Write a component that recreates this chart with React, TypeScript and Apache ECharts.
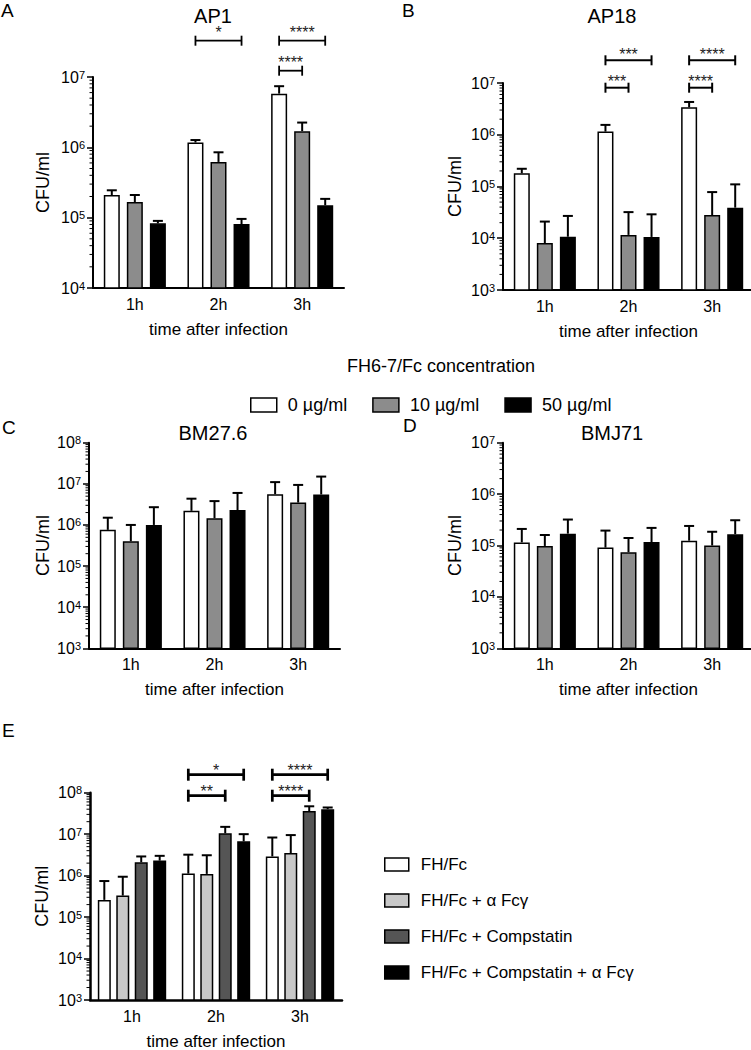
import React, { useEffect, useRef } from 'react';
import * as echarts from 'echarts';

const FONT = '"Liberation Sans", Arial, Helvetica, sans-serif';

const categories = ['1h', '2h', '3h'];
const concNames = ['0 µg/ml', '10 µg/ml', '50 µg/ml'];
const concColors = ['#ffffff', '#8c8c8c', '#000000'];
const eNames = ['FH/Fc', 'FH/Fc + α Fcγ', 'FH/Fc + Compstatin', 'FH/Fc + Compstatin + α Fcγ'];
const eColors = ['#ffffff', '#c8c8c8', '#555555', '#000000'];

// means / upper error (mean + SD), one row per group, columns = 1h, 2h, 3h
const ap1Mean = [[2.1e5, 1.17e6, 5.8e6], [1.67e5, 6.2e5, 1.7e6], [8.3e4, 8.1e4, 1.5e5]];
const ap1Err = [[2.45e5, 1.27e6, 7.4e6], [2.1e5, 8.5e5, 2.25e6], [9.0e4, 9.6e4, 1.85e5]];

const ap18Mean = [[1.8e5, 1.15e6, 3.4e6], [8.1e3, 1.16e4, 2.8e4], [1.07e4, 1.06e4, 3.9e4]];
const ap18Err = [[2.2e5, 1.55e6, 4.3e6], [2.1e4, 3.2e4, 7.8e4], [2.7e4, 2.9e4, 1.1e5]];

const bm27Mean = [[7.6e5, 2.2e6, 5.6e6], [4.0e5, 1.45e6, 3.5e6], [1.0e6, 2.3e6, 5.5e6]];
const bm27Err = [[1.5e6, 4.35e6, 1.1e7], [1.0e6, 3.8e6, 9.4e6], [2.7e6, 6.0e6, 1.5e7]];

const bmj71Mean = [[1.15e5, 9.1e4, 1.24e5], [9.8e4, 7.4e4, 1.0e5], [1.7e5, 1.17e5, 1.66e5]];
const bmj71Err = [[2.1e5, 1.95e5, 2.4e5], [1.6e5, 1.4e5, 1.85e5], [3.2e5, 2.2e5, 3.1e5]];

const eMean = [[2.6e5, 1.12e6, 2.9e6], [3.3e5, 1.1e6, 3.5e6], [2.1e6, 1.05e7, 3.6e7], [2.3e6, 6.7e6, 4.0e7]];
const eErr = [[7.4e5, 3.2e6, 8.3e6], [9.4e5, 3.1e6, 9.5e6], [2.9e6, 1.5e7, 4.7e7], [3.0e6, 1.0e7, 4.4e7]];

// significance brackets: category, from group, to group, level (1 = lower, 2 = upper), label
const ap1Brackets = [
  { cat: 1, from: 0, to: 2, level: 2, label: '*' },
  { cat: 2, from: 0, to: 2, level: 2, label: '****' },
  { cat: 2, from: 0, to: 1, level: 1, label: '****' },
];
const ap18Brackets = [
  { cat: 1, from: 0, to: 2, level: 2, label: '***' },
  { cat: 1, from: 0, to: 1, level: 1, label: '***' },
  { cat: 2, from: 0, to: 2, level: 2, label: '****' },
  { cat: 2, from: 0, to: 1, level: 1, label: '****' },
];
const eBrackets = [
  { cat: 1, from: 0, to: 3, level: 2, label: '*' },
  { cat: 1, from: 0, to: 2, level: 1, label: '**' },
  { cat: 2, from: 0, to: 3, level: 2, label: '****' },
  { cat: 2, from: 0, to: 2, level: 1, label: '****' },
];

const minorFactors = [2, 3, 4, 5, 6, 7, 8, 9];

const panels = [
  { left: 93, top: 77, width: 251, height: 211, min: 1e4, max: 1e7, names: concNames, colors: concColors,
    means: ap1Mean, errs: ap1Err, brackets: ap1Brackets, rise: [6.3, 36.3], starRise: 11.5,
    barWidth: 16, gap: 0.44, nameGap: 41, axisW: 2, bracketW: 1.8, tickHalf: 5 },
  { left: 503, top: 83, width: 251, height: 207, min: 1e3, max: 1e7, names: concNames, colors: concColors,
    means: ap18Mean, errs: ap18Err, brackets: ap18Brackets, rise: [-4.7, 22.7], starRise: 9,
    barWidth: 16, gap: 0.44, nameGap: 39, axisW: 2, bracketW: 2, tickHalf: 5 },
  { left: 89, top: 442.7, width: 251, height: 205.6, min: 1e3, max: 1e8, names: concNames, colors: concColors,
    means: bm27Mean, errs: bm27Err, brackets: [], rise: [0, 0], starRise: 0,
    barWidth: 16, gap: 0.44, nameGap: 37, axisW: 2, bracketW: 2, tickHalf: 5 },
  { left: 503, top: 442.7, width: 251, height: 205.6, min: 1e3, max: 1e7, names: concNames, colors: concColors,
    means: bmj71Mean, errs: bmj71Err, brackets: [], rise: [0, 0], starRise: 0,
    barWidth: 16, gap: 0.44, nameGap: 39, axisW: 2, bracketW: 2, tickHalf: 5 },
  { left: 90, top: 792.7, width: 252, height: 207.3, min: 1e3, max: 1e8, names: eNames, colors: eColors,
    means: eMean, errs: eErr, brackets: eBrackets, rise: [-3, 18], starRise: 7.5,
    barWidth: 13, gap: 0.42, nameGap: 39, axisW: 2.5, bracketW: 2.7, tickHalf: 6 },
];

function buildOption() {
  const grid: any[] = [];
  const xAxis: any[] = [];
  const yAxis: any[] = [];
  const series: any[] = [];

  panels.forEach((p, idx) => {
    grid.push({ left: p.left, top: p.top, width: p.width, height: p.height, containLabel: false, outerBoundsMode: 'none' });
    xAxis.push({
      type: 'category', gridIndex: idx, data: categories,
      axisLine: { lineStyle: { color: '#000', width: p.axisW } },
      axisTick: { alignWithLabel: true, length: 5, lineStyle: { color: '#000', width: 1.5 } },
      axisLabel: { color: '#000', fontSize: 16, fontFamily: FONT, margin: 8 },
      name: 'time after infection', nameLocation: 'middle', nameGap: 33,
      nameTextStyle: { color: '#000', fontSize: 17, fontFamily: FONT },
      splitLine: { show: false },
    });
    const decades = Math.round(Math.log10(p.max) - Math.log10(p.min));
    yAxis.push({
      type: 'log', gridIndex: idx, min: p.min, max: p.max, logBase: 10, splitNumber: decades,
      axisLine: { show: true, lineStyle: { color: '#000', width: p.axisW } },
      axisTick: { show: true, length: 6, lineStyle: { color: '#000', width: 1.5 } },
      splitLine: { show: false },
      minorTick: { show: false },
      axisLabel: {
        margin: 8, color: '#000',
        formatter: (v: number) => '{b|10}{s|' + Math.round(Math.log10(v)) + '}',
        rich: {
          b: { fontSize: 16, fontFamily: FONT, color: '#000', lineHeight: 16, padding: [4, 0, 0, 0], verticalAlign: 'bottom' },
          s: { fontSize: 11, fontFamily: FONT, color: '#000', lineHeight: 11, verticalAlign: 'top' },
        },
      },
      name: 'CFU/ml', nameLocation: 'middle', nameRotate: 90, nameGap: p.nameGap,
      nameTextStyle: { color: '#000', fontSize: 18, fontFamily: FONT },
    });

    const n = p.names.length;
    const step = p.barWidth * (1 + p.gap);

    p.names.forEach((name, b) => {
      series.push({
        type: 'bar', name, xAxisIndex: idx, yAxisIndex: idx, data: p.means[b],
        barWidth: p.barWidth, barGap: Math.round(p.gap * 100) + '%', silent: true, clip: true,
        itemStyle: { color: p.colors[b], borderColor: '#000', borderWidth: 1.5 },
        emphasis: { disabled: true },
      });
    });

    // error bars (upper whisker)
    const errRows: number[][] = [];
    p.means.forEach((arr, b) => arr.forEach((m, c) => errRows.push([c, b, m, p.errs[b][c]])));
    series.push({
      type: 'custom', xAxisIndex: idx, yAxisIndex: idx, silent: true, z: 5,
      encode: { x: 0, y: 3 }, data: errRows,
      renderItem: (params: any, api: any) => {
        const c = api.value(0);
        const b = api.value(1);
        const base = api.coord([c, api.value(2)]);
        const top = api.coord([c, api.value(3)]);
        const x = base[0] + (b - (n - 1) / 2) * step;
        return {
          type: 'group',
          children: [
            { type: 'line', shape: { x1: x, y1: base[1], x2: x, y2: top[1] }, style: { stroke: '#000', lineWidth: 2 } },
            { type: 'line', shape: { x1: x - 5, y1: top[1], x2: x + 5, y2: top[1] }, style: { stroke: '#000', lineWidth: 2 } },
          ],
        };
      },
    });

    // log-distributed minor ticks
    const minorRows: number[][] = [];
    const e0 = Math.round(Math.log10(p.min));
    for (let e = e0; e < e0 + decades; e++) minorFactors.forEach((f) => minorRows.push([0, f * Math.pow(10, e)]));
    series.push({
      type: 'custom', xAxisIndex: idx, yAxisIndex: idx, silent: true, z: 5,
      encode: { x: 0, y: 1 }, data: minorRows,
      renderItem: (params: any, api: any) => {
        const y = api.coord([0, api.value(1)])[1];
        const x = params.coordSys.x;
        return { type: 'line', shape: { x1: x - 3.5, y1: y, x2: x, y2: y }, style: { stroke: '#000', lineWidth: 1 } };
      },
    });

    // significance brackets
    if (p.brackets.length) {
      series.push({
        type: 'custom', xAxisIndex: idx, yAxisIndex: idx, silent: true, z: 6, clip: false,
        encode: { x: 0, y: 3 },
        data: p.brackets.map((br) => [br.cat, br.from, br.to, br.level]),
        renderItem: (params: any, api: any) => {
          const c = api.value(0);
          const center = api.coord([c, p.min])[0];
          const x1 = center + (api.value(1) - (n - 1) / 2) * step;
          const x2 = center + (api.value(2) - (n - 1) / 2) * step;
          const y = params.coordSys.y - p.rise[api.value(3) - 1];
          const st = { stroke: '#000', lineWidth: p.bracketW };
          const h = p.tickHalf;
          return {
            type: 'group',
            children: [
              { type: 'line', shape: { x1, y1: y, x2, y2: y }, style: st },
              { type: 'line', shape: { x1, y1: y - h, x2: x1, y2: y + h }, style: st },
              { type: 'line', shape: { x1: x2, y1: y - h, x2, y2: y + h }, style: st },
              {
                type: 'text', x: (x1 + x2) / 2, y: y - p.starRise + 3,
                style: { text: p.brackets[params.dataIndex].label, fontSize: 16, lineHeight: 10, fontFamily: FONT, fill: '#222', align: 'center', verticalAlign: 'middle' },
              },
            ],
          };
        },
      });
    }
  });

  const txt = (text: string, x: number, y: number, size: number, align = 'left') => ({
    type: 'text', x, y, silent: true,
    style: { text, fontSize: size, lineHeight: size, fontFamily: FONT, fill: '#000', align, verticalAlign: 'middle' },
  });

  return {
    animation: false,
    backgroundColor: '#fff',
    grid, xAxis, yAxis, series,
    legend: [
      {
        data: concNames, left: 245, top: 391, orient: 'horizontal', icon: 'rect',
        itemWidth: 26, itemHeight: 14, itemGap: 25, selectedMode: false,
        itemStyle: { borderColor: '#000', borderWidth: 1.5 },
        textStyle: { color: '#000', fontSize: 18, fontFamily: FONT, padding: [0, 0, 0, 6] },
      },
      {
        data: eNames, left: 379, top: 851, orient: 'vertical', icon: 'rect',
        itemWidth: 24, itemHeight: 13, itemGap: 19, selectedMode: false,
        itemStyle: { borderColor: '#000', borderWidth: 1.5 },
        textStyle: { color: '#000', fontSize: 17, fontFamily: FONT, padding: [0, 0, 0, 7] },
      },
    ],
    graphic: [
      txt('A', 1, 10, 19),
      txt('B', 402, 10, 19),
      txt('C', 2, 427, 19),
      txt('D', 403, 425, 19),
      txt('E', 2, 730, 19),
      txt('AP1', 213, 16, 20, 'center'),
      txt('AP18', 612, 16, 20, 'center'),
      txt('BM27.6', 213, 433, 20, 'center'),
      txt('BMJ71', 612, 433, 20, 'center'),
      txt('FH6-7/Fc concentration', 347, 366, 18),
    ],
  };
}

export default function App() {
  const ref = useRef<HTMLDivElement>(null);
  useEffect(() => {
    if (!ref.current) return;
    const chart = echarts.init(ref.current, null, { renderer: 'svg' });
    chart.setOption(buildOption() as any);
    return () => chart.dispose();
  }, []);
  return (
    <div
      ref={ref}
      style={{ position: 'absolute', left: 0, top: 0, width: 751, height: 1050, background: '#fff' }}
    />
  );
}
